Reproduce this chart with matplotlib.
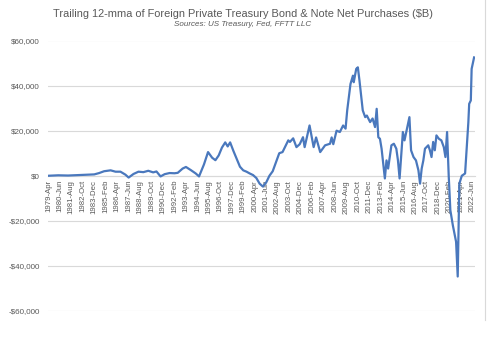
import matplotlib
matplotlib.use("Agg")
import matplotlib.pyplot as plt
import pandas as pd
from matplotlib.ticker import FuncFormatter, FixedLocator
from matplotlib.lines import Line2D

# ---- data ----
dates = [
    "1979-04", "1980-04", "1981-04", "1982-04", "1983-04", "1983-12", "1984-06", "1984-12",
    "1985-08", "1986-02", "1986-08", "1987-02", "1987-06", "1987-12", "1988-06", "1988-12",
    "1989-06", "1989-12", "1990-04", "1990-09", "1991-02", "1991-08", "1992-02", "1992-06",
    "1992-12", "1993-04", "1993-10", "1994-04", "1994-08", "1995-02", "1995-07", "1995-12",
    "1996-04", "1996-08", "1996-12", "1997-04", "1997-07", "1997-10", "1998-02", "1998-06",
    "1998-10", "1999-02", "1999-06", "1999-10", "2000-02", "2000-06", "2000-10", "2001-02",
    "2001-06", "2001-10", "2002-02", "2002-06", "2002-10", "2003-02", "2003-06", "2003-09",
    "2003-11", "2004-03", "2004-07", "2004-11", "2005-03", "2005-05", "2005-11", "2006-04",
    "2006-07", "2006-12", "2007-06", "2007-12", "2008-02", "2008-04", "2008-08", "2008-12",
    "2009-04", "2009-07", "2009-09", "2010-01", "2010-04", "2010-05", "2010-08", "2010-10",
    "2010-12", "2011-04", "2011-07", "2011-09", "2012-01", "2012-04", "2012-07", "2012-09",
    "2012-11", "2013-01", "2013-03", "2013-05", "2013-07", "2013-09", "2013-11", "2014-03",
    "2014-06", "2014-09", "2014-11", "2015-01", "2015-05", "2015-07", "2015-10", "2016-01",
    "2016-03", "2016-06", "2016-09", "2016-12", "2017-02", "2017-04", "2017-06", "2017-08",
    "2017-12", "2018-02", "2018-04", "2018-06", "2018-08", "2018-10", "2019-01", "2019-04",
    "2019-07", "2019-09", "2019-11", "2020-01", "2020-03", "2020-06", "2020-08", "2020-10",
    "2020-12", "2021-02", "2021-05", "2021-09", "2022-01", "2022-02", "2022-04", "2022-05",
    "2022-08",
]
purchases = [
    0, 200, 100, 300, 500, 600, 1200, 2000,
    2400, 1800, 1800, 500, -800, 800, 1800, 1600,
    2200, 1500, 1900, -300, 700, 1200, 1100, 1300,
    3200, 3900, 2500, 1000, -300, 5000, 10500, 8000,
    6900, 9000, 12500, 14800, 13000, 14800, 11000, 7500,
    4000, 2400, 1800, 1000, 300, -1000, -3500, -4800,
    -3000, 0, 2000, 6000, 10000, 10500, 13500, 15700,
    15000, 16600, 12700, 14000, 17100, 12700, 22300, 12700,
    17000, 10500, 13500, 14200, 17000, 14000, 20000, 19400,
    22300, 20900, 29000, 40700, 44400, 41500, 47400, 48100,
    42200, 29000, 26000, 26700, 23800, 25400, 21600, 29700,
    17100, 16400, 12000, 5400, -1200, 6800, 3200, 13500,
    14200, 12000, 6800, -1200, 19400, 15700, 20900, 26000,
    11300, 8300, 6800, 2400, -3500, 3200, 6800, 12000,
    13500, 11300, 8300, 15000, 11300, 17900, 16400, 15700,
    12700, 8300, 19400, 0, -15300, -21900, -25500, -29300,
    -44700, -3500, 0, 1000, 23800, 31900, 33400, 47400,
    52500,
]
first_month = "1979-04"
last_month = "2022-08"
label_step_months = 14
y_ticks = [-60000, -40000, -20000, 0, 20000, 40000, 60000]

title = "Trailing 12-mma of Foreign Private Treasury Bond & Note Net Purchases ($B)"
subtitle = "Sources: US Treasury, Fed, FFTT LLC"

# ---- build category axis ----
months = pd.period_range(first_month, last_month, freq="M")
start = pd.Period(first_month, freq="M")
xpos = [(pd.Period(d, freq="M") - start).n for d in dates]
tick_idx = list(range(0, len(months), label_step_months))
tick_lbl = [months[i].strftime("%Y-%b") for i in tick_idx]

plt.rcParams["font.family"] = ["Liberation Sans", "DejaVu Sans"]
fig = plt.figure(figsize=(5.0, 3.39), dpi=100)
ax = fig.add_axes([48 / 500, 1 - 311 / 339, (474.5 - 48) / 500, (311 - 40.5) / 339])

blue = "#4a78bd"
grid = "#d9d9d9"
txt = "#595959"

for s in ["top", "right", "left"]:
    ax.spines[s].set_visible(False)
ax.spines["bottom"].set_position(("data", 0))
ax.spines["bottom"].set_color(grid)
ax.spines["bottom"].set_linewidth(0.8)
ax.set_facecolor("white")

ax.plot(xpos, purchases, color=blue, lw=1.6, solid_joinstyle="round", zorder=3)

ax.set_xlim(-0.5, len(months) - 0.5)
ax.set_ylim(-60000, 60000)
ax.yaxis.set_major_locator(FixedLocator(y_ticks))


def money(v, _):
    v = int(round(v))
    return ("-$" if v < 0 else "$") + f"{abs(v):,}"


ax.yaxis.set_major_formatter(FuncFormatter(money))
ax.grid(axis="y", color=grid, lw=0.8, zorder=0)
ax.set_xticks(tick_idx)
ax.set_xticklabels(tick_lbl)
ax.tick_params(axis="x", length=0, pad=3, labelrotation=90, labelsize=5.6, labelcolor=txt)
ax.tick_params(axis="y", length=0, labelsize=5.8, labelcolor=txt, pad=6)

fig.text(243 / 500, 1 - 14 / 339, title, ha="center", va="center", fontsize=7.95, color=txt)
fig.text(243 / 500, 1 - 24.5 / 339, subtitle, ha="center", va="center", fontsize=5.8,
         color=txt, style="italic")

# chart-area border on the right
fig.add_artist(Line2D([485 / 500, 485 / 500], [1 - 320 / 339, 1.0], transform=fig.transFigure,
                      color="#d9d9d9", lw=0.8))

fig.savefig("out.png", dpi=100)
